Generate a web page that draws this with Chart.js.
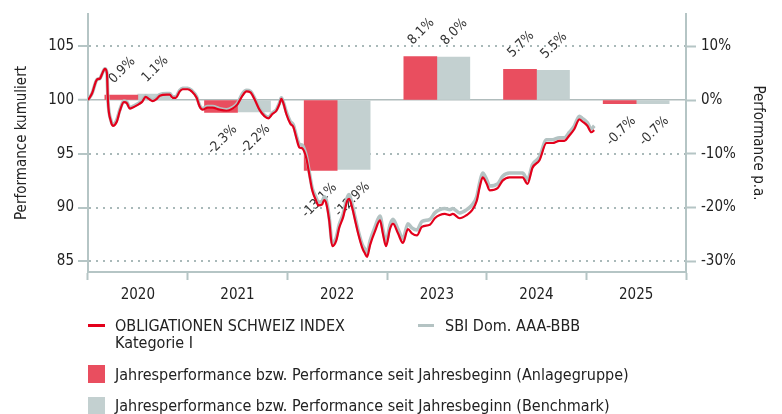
<!DOCTYPE html>
<html>
<head>
<meta charset="utf-8">
<script src="https://cdn.jsdelivr.net/npm/chart.js@4"></script>
<style>
  body { margin: 0; background: #fff; font-family: 'DejaVu Sans Condensed', 'DejaVu Sans', sans-serif; color: #222; }
  #wrap { position: relative; width: 782px; height: 414px; overflow: hidden; }
  #wrap canvas { position: absolute; left: 0; top: 0; }
  .lg { position: absolute; font-size: 16px; line-height: 17px; white-space: nowrap; color: #222; }
  .mk { position: absolute; }
</style>
</head>
<body>
<div id="wrap">
  <canvas id="chart" width="782" height="318"></canvas>
  <div class="mk" style="left:88px;top:324px;width:17px;height:3px;background:#e3001b"></div>
  <div class="lg" style="left:115px;top:317px">OBLIGATIONEN SCHWEIZ INDEX<br>Kategorie I</div>
  <div class="mk" style="left:418px;top:324px;width:16px;height:3px;background:#b4c3c3"></div>
  <div class="lg" style="left:445px;top:317px">SBI Dom. AAA-BBB</div>
  <div class="mk" style="left:88px;top:365px;width:17px;height:18px;background:#e94e5f"></div>
  <div class="lg" style="left:115px;top:366px">Jahresperformance bzw. Performance seit Jahresbeginn (Anlagegruppe)</div>
  <div class="mk" style="left:88px;top:397px;width:17px;height:18px;background:#c3d0d0"></div>
  <div class="lg" style="left:115px;top:397px">Jahresperformance bzw. Performance seit Jahresbeginn (Benchmark)</div>
</div>
<script>
const years = ['2020', '2021', '2022', '2023', '2024', '2025'];
const fundYear = [0.9, -2.3, -13.1, 8.1, 5.7, -0.7];
const benchYear = [1.1, -2.2, -12.9, 8.0, 5.5, -0.7];

// decimal years for the cumulated index lines
const dates = [
  2020.00, 2020.04, 2020.09, 2020.12, 2020.14, 2020.17, 2020.19, 2020.20, 2020.23, 2020.25,
  2020.29, 2020.32, 2020.36, 2020.39, 2020.42, 2020.45, 2020.49, 2020.54, 2020.58, 2020.61,
  2020.65, 2020.69, 2020.72, 2020.79, 2020.82, 2020.85, 2020.88, 2020.92, 2020.95, 2021.00,
  2021.04, 2021.09, 2021.12, 2021.15, 2021.20, 2021.25, 2021.32, 2021.39, 2021.45, 2021.50,
  2021.55, 2021.59, 2021.63, 2021.67, 2021.72, 2021.77, 2021.81, 2021.85, 2021.89, 2021.92,
  2021.94, 2021.96, 2021.99, 2022.03, 2022.06, 2022.09, 2022.12, 2022.15, 2022.19, 2022.22,
  2022.25, 2022.29, 2022.31, 2022.35, 2022.37, 2022.39, 2022.42, 2022.45, 2022.49, 2022.52,
  2022.56, 2022.60, 2022.62, 2022.65, 2022.68, 2022.71, 2022.75, 2022.78, 2022.80, 2022.83,
  2022.88, 2022.93, 2022.96, 2022.99, 2023.03, 2023.06, 2023.11, 2023.16, 2023.21, 2023.25,
  2023.30, 2023.35, 2023.43, 2023.48, 2023.53, 2023.58, 2023.63, 2023.66, 2023.73, 2023.80,
  2023.85, 2023.90, 2023.93, 2023.96, 2024.00, 2024.03, 2024.11, 2024.16, 2024.23, 2024.30,
  2024.36, 2024.41, 2024.46, 2024.53, 2024.60, 2024.66, 2024.73, 2024.78, 2024.83, 2024.88,
  2024.93, 2024.96, 2025.01, 2025.05, 2025.08
];
const fundIndex = [
  100.0, 100.6, 101.9, 102.0, 102.4, 102.9, 102.5, 99.9, 98.0, 97.6,
  98.0, 99.0, 99.8, 99.7, 99.2, 99.3, 99.5, 99.8, 100.3, 100.1,
  99.9, 100.1, 100.4, 100.5, 100.5, 100.2, 100.2, 100.8, 101.0, 101.0,
  100.8, 100.2, 99.4, 99.1, 99.3, 99.3, 99.1, 99.0, 99.2, 99.6,
  100.4, 100.8, 100.7, 100.1, 99.1, 98.5, 98.3, 98.7, 99.0, 99.6,
  100.1, 99.7, 98.7, 97.8, 97.5, 96.5, 95.6, 95.5, 94.6, 93.1,
  91.6, 90.6, 90.2, 90.3, 90.7, 90.4, 88.8, 86.4, 86.9, 88.1,
  89.1, 90.6, 90.8, 90.0, 88.8, 87.6, 86.3, 85.7, 85.4, 86.5,
  87.8, 88.8, 87.5, 86.4, 88.0, 88.5, 87.6, 86.7, 88.0, 87.6,
  87.4, 88.2, 88.4, 89.0, 89.3, 89.4, 89.3, 89.4, 89.0, 89.3,
  89.7, 90.6, 91.9, 92.8, 92.2, 91.6, 91.8, 92.5, 92.8, 92.8,
  92.8, 92.2, 93.7, 94.4, 96.0, 96.0, 96.2, 96.2, 96.7, 97.3,
  98.2, 98.0, 97.6, 97.0, 97.2
];
const benchIndex = [
  100.0, 100.6, 101.9, 102.0, 102.4, 102.9, 102.5, 100.0, 98.1, 97.7,
  98.2, 99.1, 99.9, 99.8, 99.3, 99.4, 99.6, 99.9, 100.4, 100.2,
  100.0, 100.2, 100.5, 100.6, 100.6, 100.3, 100.3, 100.9, 101.1, 101.1,
  100.9, 100.3, 99.5, 99.2, 99.4, 99.4, 99.2, 99.1, 99.3, 99.7,
  100.6, 100.9, 100.8, 100.2, 99.2, 98.6, 98.4, 98.8, 99.1, 99.7,
  100.2, 99.8, 98.9, 98.0, 97.7, 96.7, 95.9, 95.8, 94.8, 93.3,
  91.8, 90.9, 90.5, 90.6, 91.0, 90.7, 89.1, 86.7, 87.2, 88.4,
  89.4, 90.9, 91.2, 90.3, 89.1, 87.9, 86.6, 86.1, 85.8, 86.9,
  88.2, 89.2, 87.9, 86.8, 88.4, 88.9, 88.0, 87.1, 88.5, 88.1,
  87.9, 88.7, 88.9, 89.5, 89.8, 89.9, 89.8, 89.9, 89.5, 89.8,
  90.2, 91.0, 92.3, 93.2, 92.6, 92.0, 92.2, 92.9, 93.2, 93.2,
  93.2, 92.6, 94.0, 94.7, 96.3, 96.3, 96.5, 96.5, 97.0, 97.6,
  98.5, 98.3, 97.9, 97.3, 97.6
];

const leftTicks = [85, 90, 95, 100, 105];
const rightTicks = [-30, -20, -10, 0, 10];

const FONT = "'DejaVu Sans Condensed', 'DejaVu Sans', sans-serif";
const axisCol = '#b5c5c5';
const gridCol = '#a9b9b9';

// rotated value labels next to each bar end, drawn before the lines
const barLabels = {
  id: 'barLabels',
  afterDatasetDraw(chart, args) {
    const meta = args.meta;
    if (meta.type !== 'bar') return;
    const vals = chart.data.datasets[args.index].data;
    const ctx = chart.ctx;
    ctx.save();
    ctx.font = '13.5px ' + FONT;
    ctx.fillStyle = '#333';
    ctx.textBaseline = 'middle';
    meta.data.forEach((bar, i) => {
      const v = vals[i];
      ctx.save();
      if (v >= 0) {
        ctx.translate(bar.x - 10, bar.y - 14);
        ctx.textAlign = 'left';
      } else {
        ctx.translate(bar.x + 14, bar.y + 15);
        ctx.textAlign = 'right';
      }
      ctx.rotate(-Math.PI / 4);
      ctx.fillText(v.toFixed(1) + '%', 0, 0);
      ctx.restore();
    });
    ctx.restore();
  }
};

new Chart(document.getElementById('chart'), {
  type: 'bar',
  data: {
    labels: years,
    datasets: [
      {
        type: 'line',
        label: 'OBLIGATIONEN SCHWEIZ INDEX Kategorie I',
        data: dates.map((d, i) => ({ x: d, y: fundIndex[i] })),
        xAxisID: 'xl', yAxisID: 'y',
        borderColor: '#e3001b', borderWidth: 2.2,
        pointRadius: 0, tension: 0.3, cubicInterpolationMode: 'monotone',
        order: 1
      },
      {
        type: 'line',
        label: 'SBI Dom. AAA-BBB',
        data: dates.map((d, i) => ({ x: d, y: benchIndex[i] })),
        xAxisID: 'xl', yAxisID: 'y',
        borderColor: '#b4c3c3', borderWidth: 3.5,
        pointRadius: 0, tension: 0.3, cubicInterpolationMode: 'monotone',
        order: 2
      },
      {
        label: 'Jahresperformance bzw. Performance seit Jahresbeginn (Anlagegruppe)',
        data: fundYear,
        yAxisID: 'y1',
        backgroundColor: '#e94e5f',
        barThickness: 33,
        order: 3
      },
      {
        label: 'Jahresperformance bzw. Performance seit Jahresbeginn (Benchmark)',
        data: benchYear,
        yAxisID: 'y1',
        backgroundColor: '#c3d0d0',
        barThickness: 33,
        order: 3
      }
    ]
  },
  options: {
    responsive: false,
    animation: false,
    layout: { padding: { top: 13, left: 0, right: 0, bottom: 0 } },
    plugins: { legend: { display: false }, tooltip: { enabled: false } },
    scales: {
      x: {
        position: 'bottom',
        offset: true,
        grid: { offset: true, drawOnChartArea: false, tickLength: 8, tickColor: axisCol, tickWidth: 2, color: axisCol },
        border: { color: axisCol, width: 2 },
        ticks: { color: '#222', font: { family: FONT, size: 15 }, padding: 6 },
        afterFit(s) { s.height = 46; }
      },
      xl: {
        type: 'linear', display: false, min: 2020, max: 2026,
        offset: false, grid: { offset: false }
      },
      y: {
        position: 'left',
        min: 84, max: 108,
        afterBuildTicks(s) { s.ticks = leftTicks.map(v => ({ value: v })); },
        grid: {
          color: ctx => ctx.tick && ctx.tick.value === 100 ? '#b0bcbc' : gridCol,
          lineWidth: ctx => ctx.tick && ctx.tick.value === 100 ? 1.5 : 2,
          tickLength: 10, tickColor: axisCol, tickWidth: 2
        },
        border: { color: axisCol, width: 2, dash: ctx => ctx.tick && ctx.tick.value === 100 ? [] : [2, 5] },
        ticks: { color: '#222', font: { family: FONT, size: 15 }, padding: 4 },
        title: { display: true, text: 'Performance kumuliert', color: '#222', font: { family: FONT, size: 15 }, padding: { top: 13, bottom: 0 } },
        afterFit(s) { s.width = 88; }
      },
      y1: {
        position: 'right',
        min: -32, max: 16,
        afterBuildTicks(s) { s.ticks = rightTicks.map(v => ({ value: v })); },
        grid: { drawOnChartArea: false, tickLength: 10, tickColor: axisCol, tickWidth: 2 },
        border: { color: axisCol, width: 2 },
        ticks: { color: '#222', font: { family: FONT, size: 15 }, padding: 5, callback: v => v + '%' },
        title: { display: true, text: 'Performance p.a.', color: '#222', font: { family: FONT, size: 15 }, padding: { top: 15, bottom: 0 } },
        afterFit(s) { s.width = 96; }
      }
    }
  },
  plugins: [barLabels]
});
</script>
</body>
</html>
